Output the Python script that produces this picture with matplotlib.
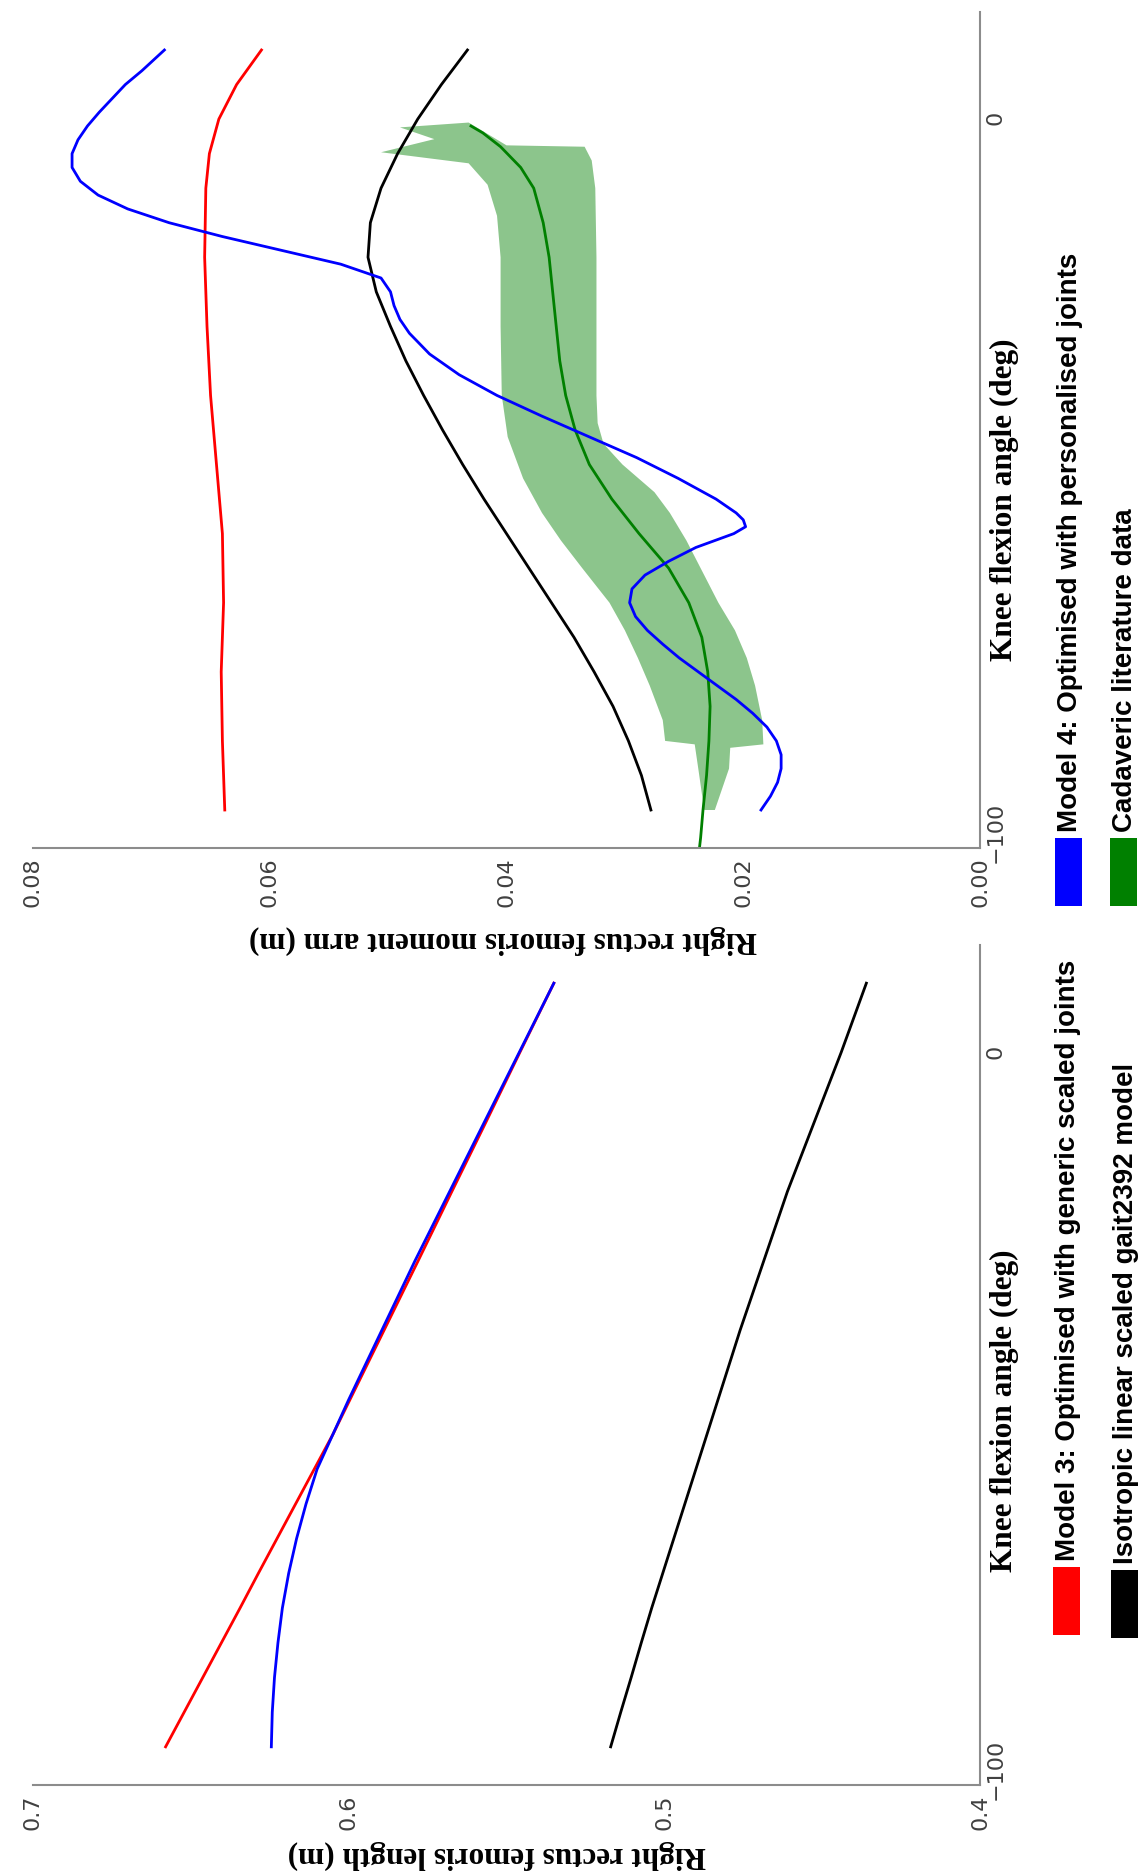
import matplotlib
matplotlib.use("Agg")
import matplotlib.pyplot as plt
from matplotlib.patches import Rectangle

# ---------------- data ----------------
# knee flexion angle (deg) for the muscle length curves
angle_len = [-100, -95, -90, -85, -80, -75, -70, -65, -60, -55, -50, -40, -30, -20, -10, 0, 10]
len_model3 = [0.658, 0.6521, 0.6462, 0.6403, 0.6344, 0.6286, 0.6227, 0.6168, 0.6109, 0.605,
              0.5996, 0.5888, 0.578, 0.5673, 0.5565, 0.5458, 0.535]
len_model4 = [0.6245, 0.6242, 0.6235, 0.6224, 0.621, 0.619, 0.6165, 0.6135, 0.610, 0.605,
              0.6000, 0.5895, 0.579, 0.568, 0.557, 0.546, 0.535]
len_iso = [0.517, 0.5138, 0.5105, 0.5073, 0.504, 0.5005, 0.497, 0.4935, 0.490, 0.4865,
           0.483, 0.476, 0.4685, 0.461, 0.4525, 0.444, 0.436]

# moment arm curves
angle_ma_m3 = [-100, -90, -80, -70, -60, -50, -40, -30, -20, -10, -5, 0, 5, 10]
ma_model3 = [0.0638, 0.0640, 0.0641, 0.0639, 0.0640, 0.0645, 0.0650, 0.0653, 0.0655, 0.0654,
             0.0651, 0.0643, 0.0628, 0.0607]

angle_ma_iso = [-100, -95, -90, -85, -80, -75, -70, -65, -60, -55, -50, -45, -40, -35, -30,
                -25, -20, -15, -10, -5, 0, 5, 10]
ma_iso = [0.0278, 0.0286, 0.0297, 0.0310, 0.0326, 0.0343, 0.0362, 0.0381, 0.0400, 0.0419,
          0.0437, 0.0454, 0.0470, 0.0485, 0.0498, 0.0510, 0.0517, 0.0515, 0.0506, 0.0492,
          0.0475, 0.0455, 0.0433]

angle_ma_m4 = [-100, -98, -96, -94, -92, -90, -88, -86, -84, -82, -80, -78, -76, -74, -72, -70,
               -68, -66, -64, -62, -60, -59, -58, -57, -55, -52, -49, -46, -43, -40, -37, -34,
               -31, -29, -27, -25, -23, -21, -19, -17, -15, -13, -11, -9, -7, -5, -3, -1, 1, 3,
               5, 7, 10]
ma_model4 = [0.0185, 0.0177, 0.0171, 0.0168, 0.0168, 0.0172, 0.0180, 0.0192, 0.0206, 0.0222,
             0.0238, 0.0254, 0.0268, 0.0281, 0.0291, 0.0296, 0.0294, 0.0283, 0.0263, 0.0240,
             0.0208, 0.0198, 0.0200, 0.0206, 0.0223, 0.0255, 0.0290, 0.0330, 0.0370, 0.0408,
             0.0440, 0.0465, 0.0482, 0.0490, 0.0495, 0.0498, 0.0506, 0.0540, 0.0590, 0.0640,
             0.0685, 0.0720, 0.0745, 0.0760, 0.0767, 0.0767, 0.0762, 0.0754, 0.0744, 0.0733,
             0.0722, 0.0708, 0.0689]

angle_cad = [-110, -104, -100, -95, -90, -85, -80, -75, -70, -65, -60, -55, -50, -45, -40,
             -35, -30, -25, -20, -15, -10, -7, -4, -2, -1]
ma_cad = [0.0240, 0.0236, 0.0234, 0.0231, 0.0229, 0.0228, 0.0230, 0.0235, 0.0246, 0.0263,
          0.0288, 0.0311, 0.0330, 0.0342, 0.0350, 0.0355, 0.0358, 0.0361, 0.0364, 0.0369,
          0.0377, 0.0388, 0.0405, 0.0420, 0.0430]

# spread of the cadaveric data: low edge bottom->top, high edge top->bottom
band_lo_angle = [-100, -94, -91, -90.5, -87, -82, -78, -74, -70, -65, -61, -57, -54, -50, -47,
                 -44, -40, -30, -20, -10, -6, -4]
band_lo = [0.0224, 0.0212, 0.0211, 0.0183, 0.0184, 0.0190, 0.0197, 0.0207, 0.0221, 0.0236,
           0.0248, 0.0262, 0.0275, 0.0302, 0.0318, 0.0323, 0.0324, 0.0324, 0.0324, 0.0325,
           0.0328, 0.0334]
band_hi_angle = [-3.8, -0.5, -1.2, -2.9, -4.8, -6.4, -9.5, -14, -20, -30, -40, -46, -52, -57,
                 -61, -65, -70, -74, -78, -82, -87, -90, -90.5, -94, -100]
band_hi = [0.0400, 0.0432, 0.0490, 0.0461, 0.0506, 0.0432, 0.0416, 0.0408, 0.0405, 0.0405,
           0.0404, 0.0399, 0.0386, 0.0370, 0.0354, 0.0336, 0.0313, 0.0300, 0.0289, 0.0279,
           0.0268, 0.0266, 0.0241, 0.0238, 0.0233]

len_ticks = [0.7, 0.6, 0.5, 0.4]
ma_ticks = [0.08, 0.06, 0.04, 0.02, 0.00]
angle_ticks = [-100, 0]

legend_labels = ["Model 3: Optimised with generic scaled joints",
                 "Isotropic linear scaled gait2392 model",
                 "Model 4: Optimised with personalised joints",
                 "Cadaveric literature data"]
legend_colors = ["red", "black", "blue", "green"]

# ---------------- figure ----------------
W, H = 1145, 1876
fig = plt.figure(figsize=(W / 100, H / 100), dpi=100)
fig.patch.set_facecolor("white")


def box(x0, y0, x1, y1):
    # pixel box (top-left origin) -> figure fraction rect
    return [x0 / W, 1 - y1 / H, (x1 - x0) / W, (y1 - y0) / H]


serif = {"family": "Liberation Serif", "weight": "bold", "size": 22.5}
spine_col = "#8c8c8c"
LW = 2.0


def style(ax, xticks, xfmt, xlabel, xlab_xy, ylab_xy):
    ax.set_facecolor("none")
    for s in ["top", "left"]:
        ax.spines[s].set_visible(False)
    for s in ["bottom", "right"]:
        ax.spines[s].set_color(spine_col)
        ax.spines[s].set_linewidth(1.5)
    ax.set_ylim(-105.5, 15.5)
    ax.yaxis.tick_right()
    ax.set_yticks(angle_ticks)
    ax.set_xticks(xticks)
    ax.set_xticklabels([xfmt.format(v) for v in xticks])
    ax.tick_params(axis="x", length=0, pad=7, labelrotation=90, labelsize=16,
                   labelcolor="#404040")
    ax.tick_params(axis="y", length=0, pad=4, labelrotation=90, labelsize=16,
                   labelcolor="#404040")
    ax.yaxis.set_label_position("right")
    ax.set_ylabel("Knee flexion angle (deg)", fontdict=serif, rotation=90,
                  va="center", ha="center")
    ax.yaxis.set_label_coords(*ylab_xy)
    ax.set_xlabel(xlabel, fontdict=serif, rotation=180, va="center", ha="center")
    ax.xaxis.set_label_coords(*xlab_xy)


# moment arm panel
ax_ma = fig.add_axes(box(33, 12, 980, 848))
ax_ma.fill(band_lo + band_hi, band_lo_angle + band_hi_angle, color="green", alpha=0.45, lw=0)
ax_ma.plot(ma_model3, angle_ma_m3, color="red", lw=LW)
ax_ma.plot(ma_iso, angle_ma_iso, color="black", lw=LW)
ax_ma.plot(ma_cad, angle_cad, color="green", lw=LW)
ax_ma.plot(ma_model4, angle_ma_m4, color="blue", lw=LW)
ax_ma.set_xlim(0.08, 0.0)
style(ax_ma, ma_ticks, "{:.2f}", "Right rectus femoris moment arm (m)", (0.496, -0.109), (1.026, 0.416))

# muscle length panel
ax_len = fig.add_axes(box(33, 945, 980, 1785))
ax_len.plot(len_model3, angle_len, color="red", lw=LW)
ax_len.plot(len_iso, angle_len, color="black", lw=LW)
ax_len.plot(len_model4, angle_len, color="blue", lw=LW)
ax_len.set_xlim(0.7, 0.4)
style(ax_len, len_ticks, "{:.1f}", "Right rectus femoris length (m)", (0.49, -0.083), (1.026, 0.446))

# legend, two columns of two entries, drawn turned on its side
patch_x = [1053, 1111, 1055, 1110]
patch_y = [1567, 1570, 838, 838]
for i, (lab, col) in enumerate(zip(legend_labels, legend_colors)):
    x0, y0 = patch_x[i], patch_y[i]
    fig.patches.append(Rectangle((x0 / W, 1 - (y0 + 68) / H), 27 / W, 68 / H,
                                 transform=fig.transFigure, color=col, lw=0))
    fig.text((x0 + 15) / W, 1 - (y0 - 6) / H, lab, rotation=90, ha="center", va="bottom",
             family="Liberation Sans", weight="bold", fontsize=20)

fig.savefig("out.png", dpi=100, facecolor="white")
